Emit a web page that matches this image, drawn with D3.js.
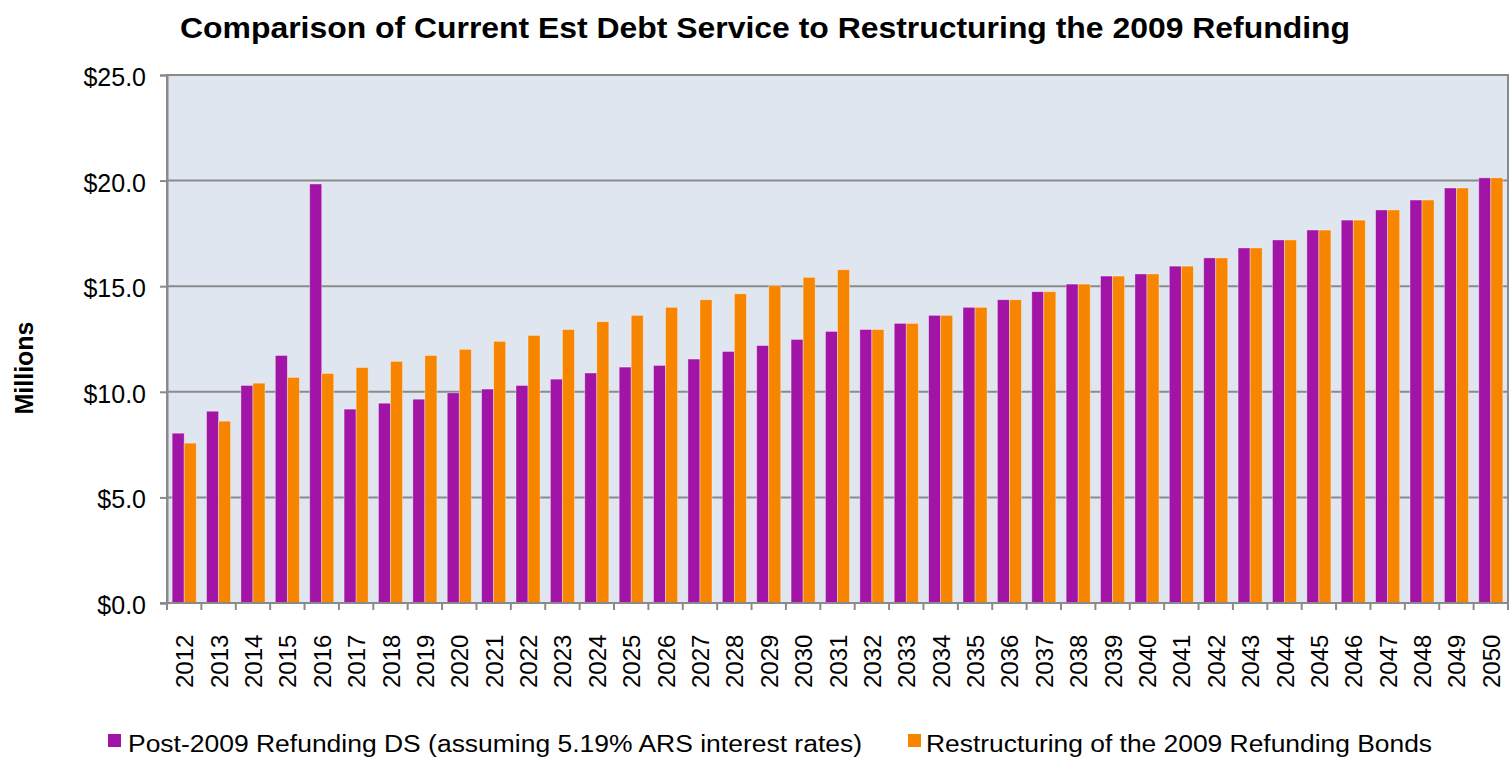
<!DOCTYPE html>
<html>
<head>
<meta charset="utf-8">
<script src="https://cdn.jsdelivr.net/npm/d3@7"></script>
<style>
  html, body { margin: 0; padding: 0; background: #ffffff; }
  svg { display: block; }
</style>
</head>
<body>
<svg id="chart" width="1510" height="759"></svg>
<script>
const years = ["2012","2013","2014","2015","2016","2017","2018","2019","2020","2021","2022","2023","2024","2025","2026","2027","2028","2029","2030","2031","2032","2033","2034","2035","2036","2037","2038","2039","2040","2041","2042","2043","2044","2045","2046","2047","2048","2049","2050"];
const postRefunding = [8.04,9.08,10.30,11.72,19.84,9.18,9.46,9.65,9.95,10.13,10.30,10.60,10.89,11.17,11.25,11.55,11.91,12.19,12.48,12.86,12.95,13.24,13.62,14.00,14.36,14.74,15.10,15.48,15.58,15.95,16.34,16.81,17.19,17.66,18.13,18.61,19.08,19.65,20.13];
const restructuring = [7.57,8.61,10.41,10.68,10.87,11.15,11.44,11.72,12.01,12.39,12.67,12.95,13.32,13.62,14.00,14.36,14.64,15.02,15.42,15.78,12.95,13.24,13.62,14.00,14.36,14.74,15.10,15.48,15.58,15.95,16.34,16.81,17.19,17.66,18.13,18.61,19.08,19.65,20.13];
const yTicks = [0, 5, 10, 15, 20, 25];
const seriesNames = ["Post-2009 Refunding DS (assuming 5.19% ARS interest rates)", "Restructuring of the 2009 Refunding Bonds"];
const seriesColors = ["#A214A6", "#F88500"];
const titleText = "Comparison of Current Est Debt Service to Restructuring the 2009 Refunding";
const yAxisTitle = "Millions";

const svg = d3.select("#chart");
const L = 167, R = 1508, T = 75, B = 603;

const x = d3.scaleBand().domain(years).range([L, R]).paddingInner(0.3).paddingOuter(0.15);
const x1 = d3.scaleBand().domain([0, 1]).range([0, x.bandwidth()]);
const y = d3.scaleLinear().domain([0, 25]).range([B, T]);

const rows = years.map((yr, i) => ({ year: yr, vals: [postRefunding[i], restructuring[i]] }));

// plot background
svg.append("rect").attr("x", L).attr("y", T).attr("width", R - L).attr("height", B - T)
  .attr("fill", "#DFE6F0");

// gridlines
svg.append("g").selectAll("line").data(yTicks.filter(d => d > 0)).join("line")
  .attr("x1", L).attr("x2", R).attr("y1", d => y(d)).attr("y2", d => y(d))
  .attr("stroke", "#8A8A8A").attr("stroke-width", 2);

// bars
const groups = svg.append("g").selectAll("g").data(rows).join("g")
  .attr("transform", d => `translate(${x(d.year)},0)`);
groups.selectAll("rect").data(d => d.vals.map((v, k) => ({ v, k }))).join("rect")
  .attr("x", d => x1(d.k)).attr("width", x1.bandwidth())
  .attr("y", d => y(d.v)).attr("height", d => y(0) - y(d.v))
  .attr("fill", d => seriesColors[d.k])
  .attr("stroke", "rgba(255,255,255,0.45)").attr("stroke-width", 0.8);

// plot border
svg.append("rect").attr("x", L).attr("y", T).attr("width", R - L).attr("height", B - T)
  .attr("fill", "none").attr("stroke", "#8A8A8A").attr("stroke-width", 2);

// y axis
const yAxis = d3.axisLeft(y).tickValues(yTicks).tickSize(7).tickPadding(14)
  .tickFormat(d => "$" + d3.format(".1f")(d));
const gy = svg.append("g").attr("transform", `translate(${L},0)`).call(yAxis);
gy.select(".domain").attr("stroke", "#8A8A8A").attr("stroke-width", 2);
gy.selectAll(".tick line").attr("stroke", "#8A8A8A").attr("stroke-width", 2);
gy.selectAll(".tick text").attr("font-family", "Liberation Sans, Arial, sans-serif")
  .attr("font-size", 25).attr("fill", "#000").attr("dy", "0.42em");

// x axis: ticks at category boundaries
const boundaries = years.map(yr => x(yr) - x.step() * x.paddingInner() / 2).concat([R]);
svg.append("g").selectAll("line").data(boundaries).join("line")
  .attr("x1", d => d).attr("x2", d => d).attr("y1", B).attr("y2", B + 7)
  .attr("stroke", "#8A8A8A").attr("stroke-width", 2);
svg.append("line").attr("x1", L - 7).attr("x2", R).attr("y1", B).attr("y2", B)
  .attr("stroke", "#8A8A8A").attr("stroke-width", 2);
svg.append("g").selectAll("text").data(years).join("text")
  .attr("transform", d => `translate(${x(d) + x.bandwidth() / 2 + 9},688) rotate(-90)`)
  .attr("text-anchor", "start")
  .attr("font-family", "Liberation Sans, Arial, sans-serif").attr("font-size", 24)
  .attr("fill", "#000").text(d => d);

// y axis title
svg.append("text").attr("transform", "translate(33,368) rotate(-90)")
  .attr("text-anchor", "middle").attr("font-family", "Liberation Sans, Arial, sans-serif")
  .attr("font-weight", "bold").attr("font-size", 25).attr("fill", "#000").text(yAxisTitle);

// title
svg.append("text").attr("x", 765).attr("y", 38).attr("text-anchor", "middle")
  .attr("font-family", "Liberation Sans, Arial, sans-serif").attr("font-weight", "bold")
  .attr("font-size", 29).attr("fill", "#000")
  .attr("textLength", 1170).attr("lengthAdjust", "spacingAndGlyphs")
  .text(titleText);

// legend
const legendItems = [
  { name: seriesNames[0], color: seriesColors[0], sx: 108, tx: 128, tw: 734 },
  { name: seriesNames[1], color: seriesColors[1], sx: 908, tx: 926, tw: 506 }
];
const lg = svg.append("g").selectAll("g").data(legendItems).join("g");
lg.append("rect").attr("x", d => d.sx).attr("y", 734).attr("width", 13).attr("height", 13)
  .attr("fill", d => d.color);
lg.append("text").attr("x", d => d.tx).attr("y", 752)
  .attr("font-family", "Liberation Sans, Arial, sans-serif").attr("font-size", 23)
  .attr("fill", "#000").attr("textLength", d => d.tw).attr("lengthAdjust", "spacingAndGlyphs")
  .text(d => d.name);
</script>
</body>
</html>
